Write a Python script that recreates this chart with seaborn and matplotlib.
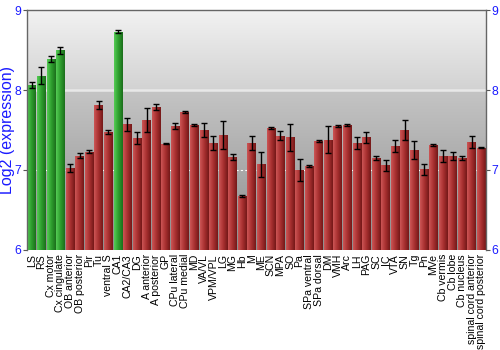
import numpy as np
import pandas as pd
import matplotlib
matplotlib.use("Agg")
import matplotlib.pyplot as plt
import seaborn as sns
from matplotlib.colors import LinearSegmentedColormap

regions = ["LS", "RS", "Cx motor", "Cx cingulate", "OB anterior", "OB posterior", "Pir", "Tu",
           "ventral S", "CA1", "CA2/CA3", "DG", "A anterior", "A posterior", "GP", "CPu lateral",
           "CPu medial", "MD", "VA/VL", "VPM/VPL", "LG", "MG", "Hb", "M", "ME", "SCN", "MPA",
           "SO", "Pa", "SPa ventral", "SPa dorsal", "DM", "VMH", "Arc", "LH", "PAG", "SC", "IC",
           "VTA", "SN", "Tg", "Pn", "MVe", "Cb vermis", "Cb lobe", "Cb nucleus",
           "spinal cord anterior", "spinal cord posterior"]
values = [8.06, 8.18, 8.39, 8.50, 7.03, 7.18, 7.23, 7.81,
          7.475, 8.73, 7.57, 7.40, 7.62, 7.79, 7.33, 7.55,
          7.725, 7.56, 7.50, 7.34, 7.44, 7.16, 6.675, 7.34, 7.07, 7.525, 7.43,
          7.41, 7.00, 7.05, 7.36, 7.38, 7.55, 7.56, 7.34, 7.41, 7.15, 7.06,
          7.30, 7.50, 7.25, 7.01, 7.31, 7.17, 7.17, 7.155,
          7.35, 7.28]
errors = [0.04, 0.11, 0.035, 0.045, 0.05, 0.03, 0.015, 0.05,
          0.02, 0.02, 0.08, 0.075, 0.15, 0.04, 0.01, 0.04,
          0.01, 0.01, 0.09, 0.09, 0.175, 0.04, 0.01, 0.09, 0.16, 0.01, 0.06,
          0.17, 0.14, 0.01, 0.015, 0.17, 0.01, 0.01, 0.075, 0.07, 0.025, 0.07,
          0.077, 0.125, 0.11, 0.07, 0.01, 0.075, 0.05, 0.025,
          0.07, 0.01]
highlight = ["LS", "RS", "Cx motor", "Cx cingulate", "CA1"]
y_ticks = [6, 7, 8, 9]

df = pd.DataFrame({"region": regions, "value": values, "err": errors})
df["group"] = ["green" if r in highlight else "red" for r in regions]

plt.rcParams["font.family"] = ["Liberation Sans", "DejaVu Sans"]
fig = plt.figure(figsize=(5, 3.5), dpi=100)
ax = fig.add_axes([0.054, 0.286, 0.918, 0.685])

pal = {r: ("#3aa83a" if g == "green" else "#a83232") for r, g in zip(df["region"], df["group"])}
sns.barplot(data=df, x="region", y="value", hue="region", palette=pal, dodge=False,
            width=0.9, legend=False, ax=ax, errorbar=None, zorder=2)
n = len(regions)
ax.set_ylim(6, 9)
ax.set_xlim(-0.5, n - 0.5)

# background vertical gradient
bg = LinearSegmentedColormap.from_list("bg", [(0, "#8e8e8e"), (0.66, "#c4c4c4"),
                                               (0.667, "#d2d2d2"), (1.0, "#f2f2f2")])
grad = np.linspace(0, 1, 256).reshape(-1, 1)
ax.imshow(grad, aspect="auto", cmap=bg, origin="lower", extent=[-0.5, n - 0.5, 6, 9],
          zorder=0)

# horizontal gradient on bars
gcm = LinearSegmentedColormap.from_list("g", ["#55cc55", "#2e9e2e", "#1c6e1c"])
rcm = LinearSegmentedColormap.from_list("r", ["#cc5555", "#a83030", "#741818"])
hgrad = np.linspace(0, 1, 64).reshape(1, -1)
groups = list(df["group"])
for patch in list(ax.patches):
    x0, y0 = patch.get_x(), patch.get_y()
    w, h = patch.get_width(), patch.get_height()
    idx = int(round(x0 + w / 2))
    grp = groups[idx]
    im = ax.imshow(hgrad, aspect="auto", cmap=gcm if grp == "green" else rcm,
                   extent=[x0, x0 + w, 6, y0 + h], zorder=2.5)
    im.set_clip_path(patch)
    patch.set_edgecolor("none")
ax.set_xlim(-0.5, n - 0.5)
ax.set_ylim(6, 9)

ax.axhline(8, color="#e8e8e8", lw=1.8, zorder=1)
ax.axhline(7, color="white", lw=0.8, ls=(0, (2, 2)), zorder=1)

ax.errorbar(np.arange(n), df["value"], yerr=df["err"], fmt="none",
            ecolor="black", elinewidth=1, capsize=2, capthick=1, zorder=4)

ax.set_yticks(y_ticks)
ax.set_yticklabels([str(t) for t in y_ticks])
ax.tick_params(axis="y", labelcolor="#1a1aff", labelsize=8.7, length=3, width=0.8,
               color="#555555", left=True, right=True, labelleft=True, labelright=True, pad=1)
ax.tick_params(axis="x", labelsize=7.6, rotation=90, length=0, pad=3, colors="black")
ax.set_xlabel("")
ax.set_ylabel("Log2 (expression)", color="#1a1aff", fontsize=11.5)
ax.yaxis.set_label_coords(-0.027, 0.5)
for s in ax.spines.values():
    s.set_color("#666666")
    s.set_linewidth(1)
ax.spines["bottom"].set_visible(False)

fig.savefig("out.png", dpi=100)
